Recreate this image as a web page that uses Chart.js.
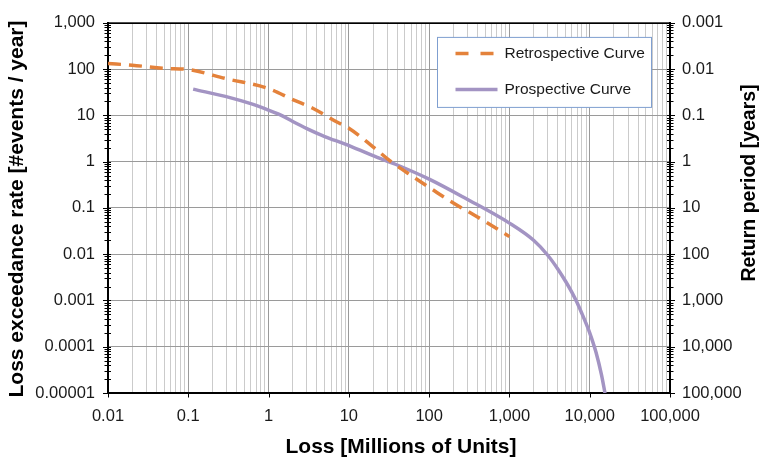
<!DOCTYPE html>
<html>
<head>
<meta charset="utf-8">
<title>Loss exceedance curves</title>
<script src="https://cdn.jsdelivr.net/npm/chart.js@4.4.1/dist/chart.umd.min.js"></script>
<style>
  html, body { margin: 0; padding: 0; background: #ffffff; }
  canvas { display: block; }
</style>
</head>
<body>
<canvas id="chart" width="760" height="462"></canvas>
<script>
// Retrospective curve: loss [millions] and annual exceedance rate
const retroLoss = [0.01, 0.02, 0.05, 0.1, 0.3, 1, 2, 3.5, 7, 10, 20, 32, 60, 110, 200, 350, 600, 1000];
const retroRate = [132, 122, 104, 98, 62, 38, 22, 14.5, 7.3, 5.3, 2.1, 1.07, 0.5, 0.25, 0.128, 0.073, 0.042, 0.024];

// Prospective curve: loss [millions] and annual exceedance rate
const prospLoss = [0.115, 0.33, 0.6, 0.93, 1.4, 2, 3, 5, 9, 20, 38, 100, 290, 1000, 2000, 3000, 4000, 5000, 6000, 7000, 8000, 9000, 10000, 12000, 14000, 15500];
const prospRate = [37, 24.3, 18, 13.7, 10.3, 7.4, 5.2, 3.5, 2.4, 1.35, 0.88, 0.42, 0.158, 0.047, 0.02, 0.0095, 0.0048, 0.0026, 0.0015, 0.00088, 0.00052, 0.00032, 0.0002, 0.000075, 0.000025, 0.00001];

const seriesNames = ['Retrospective Curve', 'Prospective Curve'];

// Tick labels, one per decade
const lossTickLabels = ['0.01', '0.1', '1', '10', '100', '1,000', '10,000', '100,000'];           // 1e-2 .. 1e5
const rateTickLabels = ['0.00001', '0.0001', '0.001', '0.01', '0.1', '1', '10', '100', '1,000']; // 1e-5 .. 1e3
const returnPeriodTickLabels = ['100,000', '10,000', '1,000', '100', '10', '1', '0.1', '0.01', '0.001']; // 1 / rate

const xTitle = 'Loss [Millions of Units]';
const yTitle = 'Loss exceedance rate [#events / year]';
const y2Title = 'Return period [years]';

const LOSS_MIN_EXP = -2, LOSS_MAX_EXP = 5;
const RATE_MIN_EXP = -5, RATE_MAX_EXP = 3;

const FONT = '"Liberation Sans", Arial, Helvetica, sans-serif';
const TEXT = '#1a1a1a';
const ORANGE = '#E4823B';
const PURPLE = '#A394C3';

// Decade ticks (major) plus 2..9 sub-ticks (minor)
function decadeTicks(minExp, maxExp) {
  const out = [];
  for (let k = minExp; k <= maxExp; k++) {
    out.push({ value: Math.pow(10, k), major: true });
    if (k < maxExp) {
      for (let j = 2; j <= 9; j++) {
        out.push({ value: parseFloat((j * Math.pow(10, k)).toPrecision(12)), major: false });
      }
    }
  }
  return out;
}

function labelFor(list, minExp) {
  return function (value, index, ticks) {
    if (!ticks[index] || !ticks[index].major) return '';
    return list[Math.round(Math.log10(value)) - minExp] || '';
  };
}

const toPoints = (xs, ys) => xs.map((x, i) => ({ x: x, y: ys[i] }));

// Frame, axis tick marks, legend box and axis titles
const decorations = {
  id: 'decorations',
  afterDatasetsDraw(chart) {
    const ctx = chart.ctx;
    const ca = chart.chartArea;
    const sy = chart.scales.y, sx = chart.scales.x;

    ctx.save();
    // top edge of the frame
    ctx.strokeStyle = '#000';
    ctx.lineWidth = 1.5;
    ctx.beginPath();
    ctx.moveTo(ca.left, ca.top + 0.25);
    ctx.lineTo(ca.right, ca.top + 0.25);
    ctx.stroke();

    // tick marks crossing the left and right axes
    ctx.lineWidth = 1;
    ctx.beginPath();
    sy.ticks.forEach(t => {
      const py = Math.round(sy.getPixelForValue(t.value)) + 0.5;
      const out = t.major ? 5 : 3.5;
      ctx.moveTo(ca.left - out, py); ctx.lineTo(ca.left + 3, py);
      ctx.moveTo(ca.right - 3, py); ctx.lineTo(ca.right + out, py);
    });
    // short marks below the loss axis at each decade
    sx.ticks.forEach(t => {
      if (!t.major) return;
      const px = Math.round(sx.getPixelForValue(t.value)) + 0.5;
      ctx.moveTo(px, ca.bottom); ctx.lineTo(px, ca.bottom + 4.5);
    });
    ctx.stroke();

    // legend
    const bx = ca.right - 232.5, by = ca.top + 14.5, bw = 214, bh = 70;
    ctx.fillStyle = '#ffffff';
    ctx.fillRect(bx, by, bw, bh);
    ctx.strokeStyle = '#7f9fd0';
    ctx.lineWidth = 1;
    ctx.strokeRect(bx, by, bw, bh);

    const rows = [by + 16, by + 52];
    chart.data.datasets.forEach((ds, i) => {
      const yy = rows[i];
      ctx.strokeStyle = ds.borderColor;
      ctx.lineWidth = ds.borderWidth;
      ctx.lineCap = 'butt';
      ctx.setLineDash(ds.borderDash && ds.borderDash.length ? [13, 12] : []);
      ctx.beginPath();
      ctx.moveTo(bx + 18, yy);
      ctx.lineTo(bx + 60, yy);
      ctx.stroke();
      ctx.setLineDash([]);
      ctx.fillStyle = TEXT;
      ctx.font = '15.5px ' + FONT;
      ctx.textAlign = 'left';
      ctx.textBaseline = 'middle';
      ctx.fillText(ds.label, bx + 67, yy);
    });

    // axis titles
    ctx.fillStyle = '#000';
    ctx.textAlign = 'center';
    ctx.textBaseline = 'alphabetic';
    ctx.font = 'bold 21px ' + FONT;
    ctx.fillText(xTitle, 401, 452.5);

    ctx.save();
    ctx.translate(22.5, 209);
    ctx.rotate(-Math.PI / 2);
    ctx.fillText(yTitle, 0, 0);
    ctx.restore();

    ctx.save();
    ctx.font = 'bold 19.5px ' + FONT;
    ctx.translate(755, 183);
    ctx.rotate(-Math.PI / 2);
    ctx.fillText(y2Title, 0, 0);
    ctx.restore();

    ctx.restore();
  }
};

new Chart(document.getElementById('chart'), {
  type: 'line',
  data: {
    datasets: [
      {
        label: seriesNames[0],
        data: toPoints(retroLoss, retroRate),
        borderColor: ORANGE,
        borderWidth: 3.5,
        borderDash: [13, 8],
        pointRadius: 0,
        fill: false,
        cubicInterpolationMode: 'monotone'
      },
      {
        label: seriesNames[1],
        data: toPoints(prospLoss, prospRate),
        borderColor: PURPLE,
        borderWidth: 3.5,
        pointRadius: 0,
        fill: false,
        cubicInterpolationMode: 'monotone'
      }
    ]
  },
  options: {
    responsive: false,
    animation: false,
    devicePixelRatio: 1,
    layout: { padding: { top: 15, left: 0, right: 0, bottom: 0 } },
    plugins: {
      legend: { display: false },
      tooltip: { enabled: false }
    },
    scales: {
      x: {
        type: 'logarithmic',
        position: 'bottom',
        min: 0.01,
        max: 100000,
        afterBuildTicks: s => { s.ticks = decadeTicks(LOSS_MIN_EXP, LOSS_MAX_EXP); },
        afterFit: s => { s.height = 69; },
        grid: {
          color: c => (c.tick && c.tick.major) ? '#9a9a9a' : '#cbcbcb',
          lineWidth: 1,
          drawTicks: false
        },
        border: { display: true, color: '#000', width: 2 },
        ticks: {
          autoSkip: false,
          maxRotation: 0,
          padding: 14,
          color: TEXT,
          font: { family: FONT, size: 16.5 },
          callback: labelFor(lossTickLabels, LOSS_MIN_EXP)
        }
      },
      y: {
        type: 'logarithmic',
        position: 'left',
        min: 0.00001,
        max: 1000,
        afterBuildTicks: s => { s.ticks = decadeTicks(RATE_MIN_EXP, RATE_MAX_EXP); },
        afterFit: s => { s.width = 108; },
        grid: {
          color: c => (c.tick && c.tick.major) ? '#9a9a9a' : 'rgba(0,0,0,0)',
          lineWidth: 1,
          drawTicks: false
        },
        border: { display: true, color: '#000', width: 2 },
        ticks: {
          autoSkip: false,
          padding: 13,
          color: TEXT,
          font: { family: FONT, size: 16.5 },
          callback: labelFor(rateTickLabels, RATE_MIN_EXP)
        }
      },
      y2: {
        type: 'logarithmic',
        position: 'right',
        min: 0.00001,
        max: 1000,
        afterBuildTicks: s => { s.ticks = decadeTicks(RATE_MIN_EXP, RATE_MAX_EXP); },
        afterFit: s => { s.width = 90; },
        grid: { drawOnChartArea: false, drawTicks: false },
        border: { display: true, color: '#000', width: 2 },
        ticks: {
          autoSkip: false,
          padding: 12,
          color: TEXT,
          font: { family: FONT, size: 16.5 },
          callback: labelFor(returnPeriodTickLabels, RATE_MIN_EXP)
        }
      }
    }
  },
  plugins: [decorations]
});
</script>
</body>
</html>
